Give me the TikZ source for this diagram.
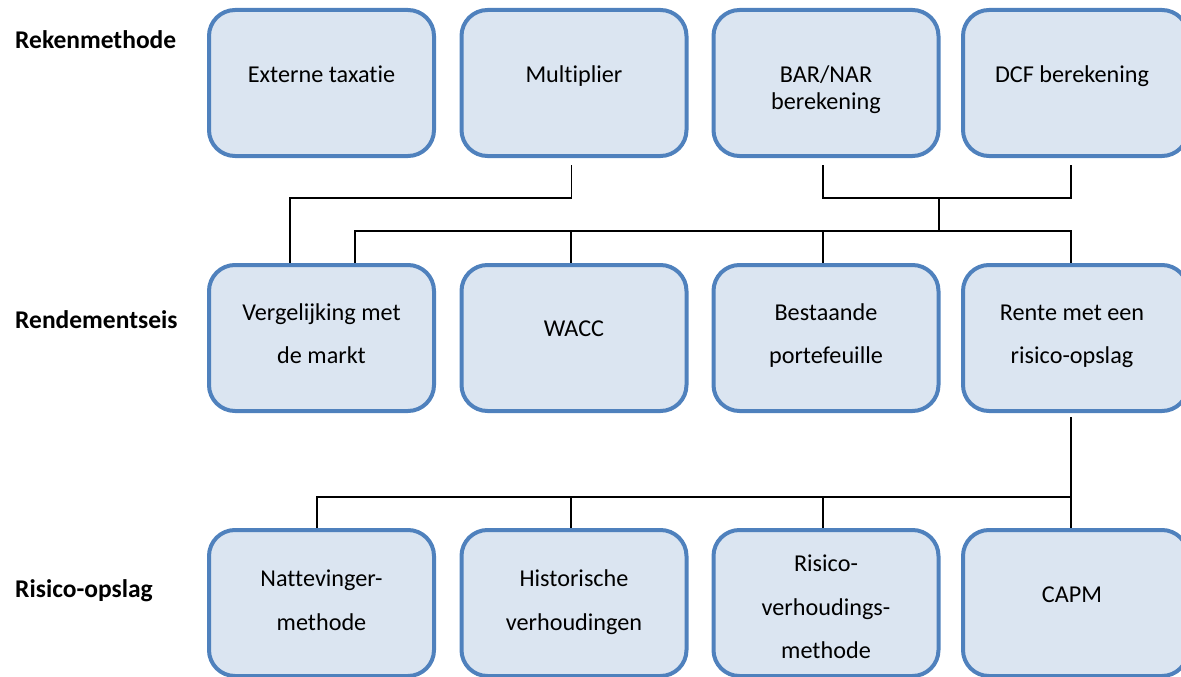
\documentclass[tikz,border=0pt]{standalone}
\usepackage{fontspec}
\setmainfont{Carlito}[Ligatures=NoCommon]
\usetikzlibrary{calc}
\definecolor{boxfill}{HTML}{DBE5F1}
\definecolor{boxline}{HTML}{4F81BD}
\tikzset{
  box/.style={draw=boxline, fill=boxfill, line width=4pt, rounded corners=26pt,
    minimum width=225pt, minimum height=146pt, inner sep=0pt},
  txt/.style={anchor=base, inner sep=0pt, font=\fontsize{24.2}{28}\selectfont},
  lbl/.style={anchor=base west, inner sep=0pt, font=\fontsize{25.5}{28}\selectfont\bfseries},
  conn/.style={draw=black, line width=1.7pt}
}
\begin{document}
\begin{tikzpicture}[x=1pt,y=-1pt]
\useasboundingbox (0,0) rectangle (1181,677);
% boxes
\node[box] (r1a) at (321.5,83) {};
\node[box] (r1b) at (574,83) {};
\node[box] (r1c) at (826,83) {};
\node[box] (r1d) at (1075.5,83) {};
\node[box] (r2a) at (321.5,338) {};
\node[box] (r2b) at (574,338) {};
\node[box] (r2c) at (826,338) {};
\node[box] (r2d) at (1075.5,338) {};
\node[box] (r3a) at (321.5,603) {};
\node[box] (r3b) at (574,603) {};
\node[box] (r3c) at (826,603) {};
\node[box] (r3d) at (1075.5,603) {};
% row labels
\node[lbl] (l1) at (15,49) {Rekenmethode};
\node[lbl] (l2) at (15,328) {Rendementseis};
\node[lbl] (l3) at (15,597) {Risico-opslag};
% texts row 1
\node[txt] (t1a) at (321.5,82) {Externe taxatie};
\node[txt] (t1b) at (574,82) {Multiplier};
\node[txt] (t1c1) at (826,82) {BAR/NAR};
\node[txt] (t1c2) at (826,110) {berekening};
\node[txt] (t1d) at (1072,82) {DCF berekening};
% texts row 2
\node[txt] (t2a1) at (321.5,320) {Vergelijking met};
\node[txt] (t2a2) at (321.5,363) {de markt};
\node[txt] (t2b) at (574,336) {WACC};
\node[txt] (t2c1) at (826,320) {Bestaande};
\node[txt] (t2c2) at (826,363) {portefeuille};
\node[txt] (t2d1) at (1072,320) {Rente met een};
\node[txt] (t2d2) at (1072,363) {risico-opslag};
% texts row 3
\node[txt] (t3a1) at (321.5,586) {Nattevinger-};
\node[txt] (t3a2) at (321.5,630) {methode};
\node[txt] (t3b1) at (574,586) {Historische};
\node[txt] (t3b2) at (574,630) {verhoudingen};
\node[txt] (t3c1) at (826,571) {Risico-};
\node[txt] (t3c2) at (826,615) {verhoudings-};
\node[txt] (t3c3) at (826,658) {methode};
\node[txt] (t3d) at (1072,602) {CAPM};
% connector coordinates
\coordinate (m0) at (290,198);
\coordinate (j1) at (939,198);
\coordinate (j2) at (939,231);
\coordinate (b1) at (355,231);
\coordinate (b2) at (571,231);
\coordinate (b3) at (823,231);
\coordinate (b4) at (1071,231);
\coordinate (c1) at (317,497);
\coordinate (c2) at (571,497);
\coordinate (c3) at (823,497);
\coordinate (c4) at (1071,497);
% row 1 -> row 2
\draw[conn] ($(r1b.south)+(-2.5,7)$) |- (m0) -- (m0 |- r2a.north);
\draw[conn] ($(r1c.south)+(-3,7)$) |- (j1) -| ($(r1d.south)+(-4.5,7)$);
\draw[conn] (j1) -- (j2);
\draw[conn] (b1 |- r2a.north) -- (b1) -- (b4) -- (b4 |- r2d.north);
\draw[conn] (b2) -- (b2 |- r2b.north);
\draw[conn] (b3) -- (b3 |- r2c.north);
% row 2 -> row 3
\draw[conn] ($(r2d.south -| c4)+(0,4)$) -- (c4) -- (c4 |- r3d.north);
\draw[conn] (c4) -- (c1) -- (c1 |- r3a.north);
\draw[conn] (c2) -- (c2 |- r3b.north);
\draw[conn] (c3) -- (c3 |- r3c.north);
\end{tikzpicture}
\end{document}
